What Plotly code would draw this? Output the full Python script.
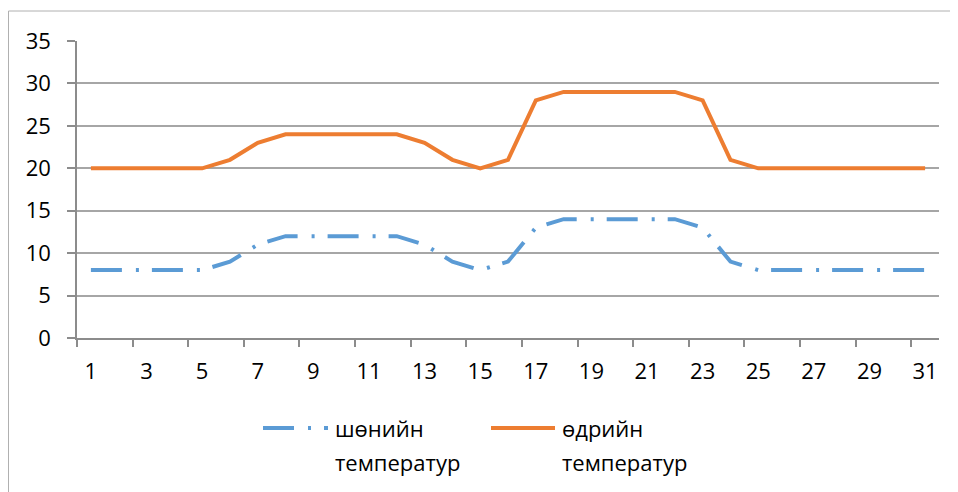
import plotly.graph_objects as go

days = list(range(1, 32))
night_temp = [8, 8, 8, 8, 8, 9, 11, 12, 12, 12, 12, 12, 11, 9, 8, 9,
              13, 14, 14, 14, 14, 14, 13, 9, 8, 8, 8, 8, 8, 8, 8]
day_temp = [20, 20, 20, 20, 20, 21, 23, 24, 24, 24, 24, 24, 23, 21, 20, 21,
            28, 29, 29, 29, 29, 29, 28, 21, 20, 20, 20, 20, 20, 20, 20]
series_names = ["шөнийн", "өдрийн"]
name_line2 = "температур"
y_ticks = [0, 5, 10, 15, 20, 25, 30, 35]
x_ticks = days[::2]

BLUE = "#5B9BD5"
ORANGE = "#ED7D31"
GRID = "#A6A6A6"
AXIS = "#8C8C8C"
FONT = "Open Sans"
NIGHT_DASH = "31px,14px,3px,13px"

fig = go.Figure()
fig.add_trace(go.Scatter(x=days, y=night_temp, mode="lines", name=series_names[0],
                         line=dict(color=BLUE, width=4, dash=NIGHT_DASH), showlegend=False))
fig.add_trace(go.Scatter(x=days, y=day_temp, mode="lines", name=series_names[1],
                         line=dict(color=ORANGE, width=4), showlegend=False))

# page is offset by the default 8px body margin
OFF = 8
W, H = 958 - OFF, 492 - OFF
# plot area in page pixels: x 77..939, y 41..338
L, T = 77 - OFF, 41 - OFF
R = W - (939 - OFF)
B = H - (338 - OFF)
pw, ph = W - L - R, H - T - B


def px(x):
    return (x - OFF - L) / pw


def py(y):
    return (H - B - (y - OFF)) / ph


shapes = [
    dict(type="rect", xref="paper", yref="paper", x0=px(8.5), x1=px(957.5), y0=py(540), y1=py(11),
         line=dict(color="#B0B0B0", width=1), fillcolor="rgba(0,0,0,0)", layer="below"),
    dict(type="line", xref="paper", yref="paper", x0=px(263), x1=px(328), y0=py(428), y1=py(428),
         line=dict(color=BLUE, width=4, dash=NIGHT_DASH)),
    dict(type="line", xref="paper", yref="paper", x0=px(491), x1=px(555), y0=py(428), y1=py(428),
         line=dict(color=ORANGE, width=4)),
]
annotations = []
for name, xs in zip(series_names, [333, 560]):
    annotations.append(dict(xref="paper", yref="paper", x=px(xs), y=py(428), text=name,
                            showarrow=False, xanchor="left", yanchor="middle",
                            font=dict(family=FONT, size=22, color="#000000")))
    annotations.append(dict(xref="paper", yref="paper", x=px(xs), y=py(462), text=name_line2,
                            showarrow=False, xanchor="left", yanchor="middle",
                            font=dict(family=FONT, size=22, color="#000000")))

fig.update_layout(
    width=W, height=H,
    margin=dict(l=L, r=R, t=T, b=B),
    paper_bgcolor="white", plot_bgcolor="white",
    font=dict(family=FONT, size=22, color="#000000"),
    shapes=shapes, annotations=annotations,
    showlegend=False,
)
fig.update_xaxes(
    range=[0.5, 31.5], tickmode="array", tickvals=x_ticks, ticktext=[str(v) for v in x_ticks],
    ticks="", showgrid=False, showline=True, linecolor=AXIS, linewidth=1.5,
    zeroline=False, ticklabelstandoff=13,
    minor=dict(ticks="outside", tickmode="array", tickvals=[d - 0.5 for d in x_ticks],
               ticklen=7, tickcolor=AXIS, tickwidth=1.5, showgrid=False),
)
fig.update_yaxes(
    range=[0, 35], tickmode="array", tickvals=y_ticks, ticks="outside", ticklen=8,
    tickcolor=AXIS, tickwidth=1.5, showline=True, linecolor=AXIS, linewidth=1.5,
    showgrid=True, gridcolor=GRID, gridwidth=1.5, zeroline=False, ticklabelstandoff=12,
)

fig.write_html("out.html")
